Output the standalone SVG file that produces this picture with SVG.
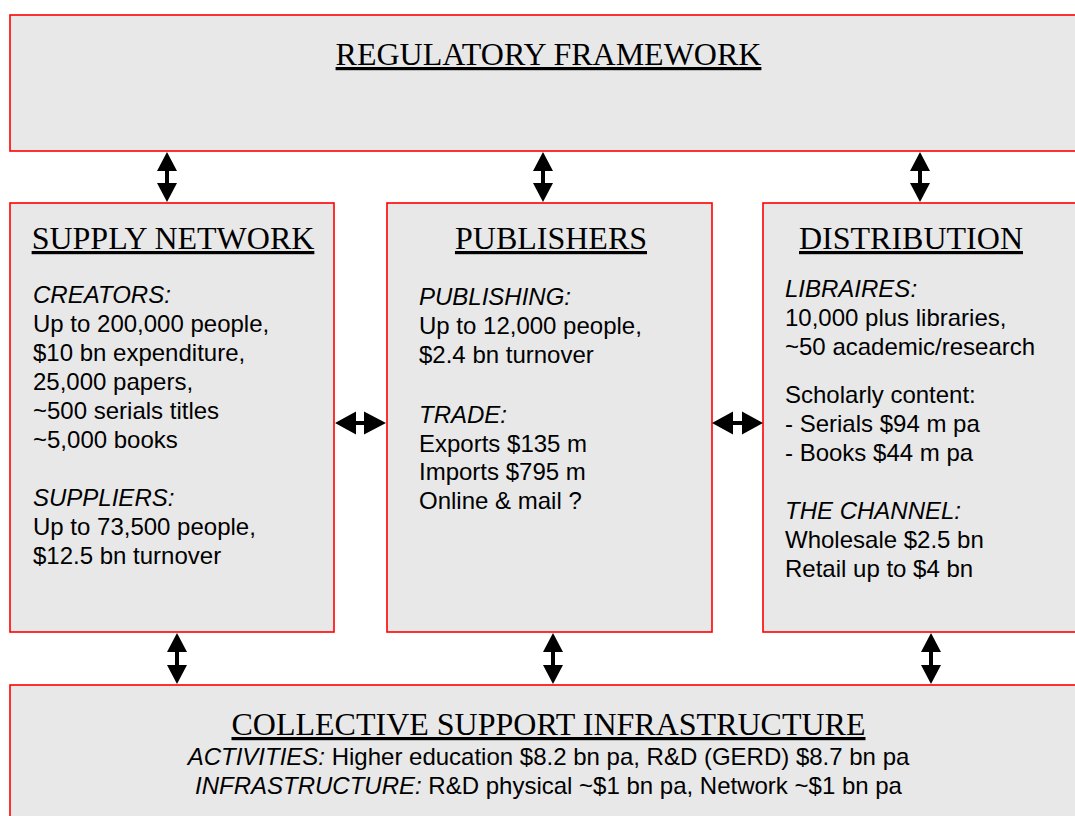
<svg xmlns="http://www.w3.org/2000/svg" width="1075" height="816" viewBox="0 0 1075 816">
<style>
.box{fill:#e8e8e8;stroke:#ff0000;stroke-width:1.6}
.title{font-family:"Liberation Serif","Times New Roman",serif;font-size:32px;fill:#000;text-decoration:underline}
.body{font-family:"Liberation Sans",Arial,sans-serif;font-size:24px;fill:#000}
.it{font-style:italic}
.arrow{fill:#000;stroke:none}
</style>
<rect width="1075" height="816" fill="#ffffff"/>
<g id="regulatory">
<rect class="box" x="10" y="15" width="1080" height="136"/>
<text class="title" x="548.5" y="65" text-anchor="middle">REGULATORY FRAMEWORK</text>
</g>
<g id="supply">
<rect class="box" x="10" y="203" width="324" height="429"/>
<text class="title" x="173" y="249" text-anchor="middle">SUPPLY NETWORK</text>
<text class="body" x="33">
<tspan class="it" x="33" y="303">CREATORS:</tspan>
<tspan x="33" y="332">Up to 200,000 people,</tspan>
<tspan x="33" y="361">$10 bn expenditure,</tspan>
<tspan x="33" y="390">25,000 papers,</tspan>
<tspan x="33" y="419">~500 serials titles</tspan>
<tspan x="33" y="448">~5,000 books</tspan>
<tspan class="it" x="33" y="506">SUPPLIERS:</tspan>
<tspan x="33" y="535">Up to 73,500 people,</tspan>
<tspan x="33" y="564">$12.5 bn turnover</tspan>
</text>
</g>
<g id="publishers">
<rect class="box" x="387" y="203" width="325" height="429"/>
<text class="title" x="551" y="249" text-anchor="middle">PUBLISHERS</text>
<text class="body" x="419">
<tspan class="it" x="419" y="305">PUBLISHING:</tspan>
<tspan x="419" y="334">Up to 12,000 people,</tspan>
<tspan x="419" y="363">$2.4 bn turnover</tspan>
<tspan class="it" x="419" y="423">TRADE:</tspan>
<tspan x="419" y="452">Exports $135 m</tspan>
<tspan x="419" y="480">Imports $795 m</tspan>
<tspan x="419" y="509">Online &amp; mail ?</tspan>
</text>
</g>
<g id="distribution">
<rect class="box" x="763" y="203" width="330" height="429"/>
<text class="title" x="911" y="249" text-anchor="middle">DISTRIBUTION</text>
<text class="body" x="785">
<tspan class="it" x="785" y="297">LIBRAIRES:</tspan>
<tspan x="785" y="326">10,000 plus libraries,</tspan>
<tspan x="785" y="355">~50 academic/research</tspan>
<tspan x="785" y="403">Scholarly content:</tspan>
<tspan x="785" y="432">- Serials $94 m pa</tspan>
<tspan x="785" y="461">- Books $44 m pa</tspan>
<tspan class="it" x="785" y="519">THE CHANNEL:</tspan>
<tspan x="785" y="548">Wholesale $2.5 bn</tspan>
<tspan x="785" y="577">Retail up to $4 bn</tspan>
</text>
</g>
<g id="infrastructure">
<rect class="box" x="10" y="685" width="1080" height="150"/>
<text class="title" x="548.5" y="735" text-anchor="middle">COLLECTIVE SUPPORT INFRASTRUCTURE</text>
<text class="body" x="548.5" y="765" text-anchor="middle"><tspan class="it">ACTIVITIES:</tspan> Higher education $8.2 bn pa, R&amp;D (GERD) $8.7 bn pa</text>
<text class="body" x="548.5" y="794" text-anchor="middle"><tspan class="it">INFRASTRUCTURE:</tspan> R&amp;D physical ~$1 bn pa, Network ~$1 bn pa</text>
</g>
<g id="connectors">
<path class="arrow" d="M167,152 L177,171 L169,171 L169,183 L177,183 L167,202 L157,183 L165,183 L165,171 L157,171 Z"/>
<path class="arrow" d="M543,152 L553,171 L545,171 L545,183 L553,183 L543,202 L533,183 L541,183 L541,171 L533,171 Z"/>
<path class="arrow" d="M920,152 L930,171 L922,171 L922,183 L930,183 L920,202 L910,183 L918,183 L918,171 L910,171 Z"/>
<path class="arrow" d="M177,633 L187,652 L179,652 L179,665 L187,665 L177,684 L167,665 L175,665 L175,652 L167,652 Z"/>
<path class="arrow" d="M553,633 L563,652 L555,652 L555,665 L563,665 L553,684 L543,665 L551,665 L551,652 L543,652 Z"/>
<path class="arrow" d="M931,633 L941,652 L933,652 L933,665 L941,665 L931,684 L921,665 L929,665 L929,652 L921,652 Z"/>
<path class="arrow" d="M335,423 L356,411.5 L356,421 L364,421 L364,411.5 L386,423 L364,434.5 L364,425 L356,425 L356,434.5 Z"/>
<path class="arrow" d="M712,423 L733,411.5 L733,421 L742,421 L742,411.5 L763,423 L742,434.5 L742,425 L733,425 L733,434.5 Z"/>
</g>
</svg>
